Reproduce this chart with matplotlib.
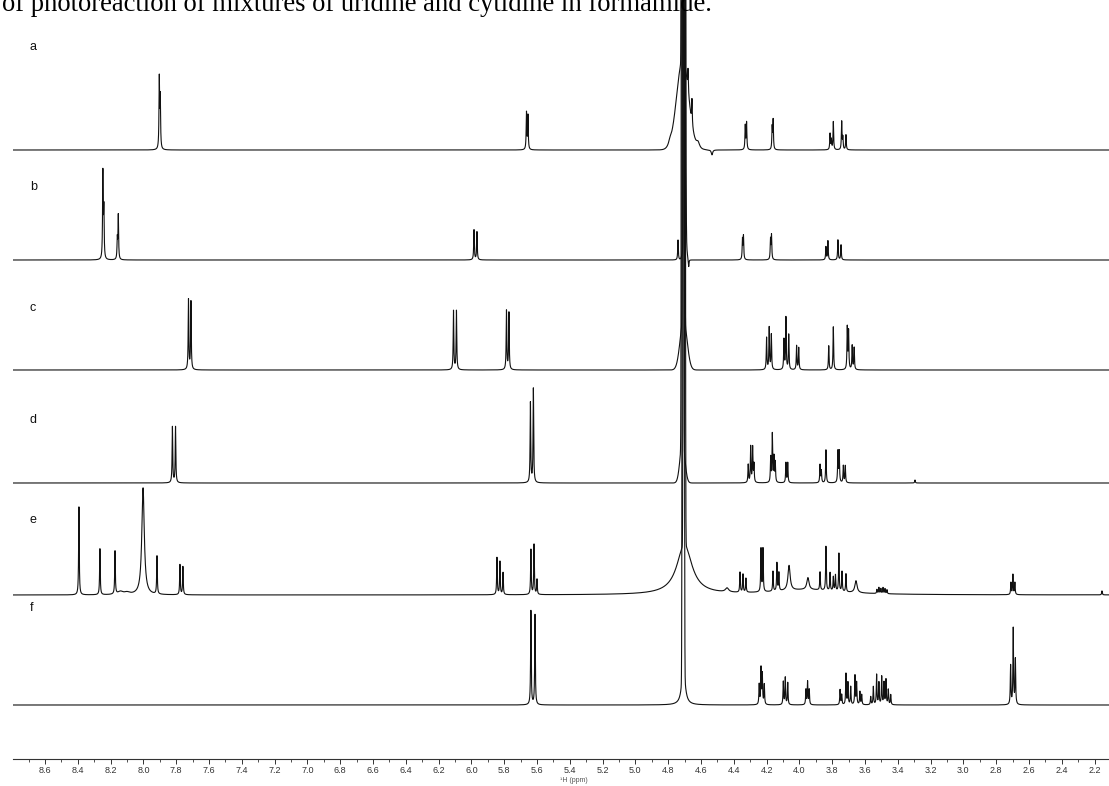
import numpy as np
import matplotlib.pyplot as plt
from matplotlib.ticker import MultipleLocator, FormatStrFormatter

plt.rcParams['font.family'] = ['Liberation Sans', 'DejaVu Sans']

caption = 'of photoreaction of mixtures of uridine and cytidine in formamide.'
labels = ['a', 'b', 'c', 'd', 'e', 'f']

# sharp lines: chemical shift (ppm) and height for each trace
a_shift = [7.903, 7.897, 5.664, 5.655, 4.679, 4.655, 4.330, 4.322, 4.166, 4.160,
           3.813, 3.805, 3.793, 3.742, 3.735, 3.716]
a_height = [70, 50, 37, 34, 22, 25, 24, 27, 22, 29, 16, 10, 28, 28, 12, 15]

b_shift = [8.247, 8.241, 8.159, 8.153, 5.984, 5.966, 4.740, 4.690, 4.675,
           4.347, 4.341, 4.176, 4.170, 3.838, 3.826, 3.765, 3.746]
b_height = [86, 48, 20, 44, 30, 28, 20, 25, -8, 20, 23, 20, 24, 13, 19, 20, 15]

c_shift = [7.725, 7.710, 6.109, 6.091, 5.786, 5.771,
           4.200, 4.184, 4.171, 4.094, 4.082, 4.065, 4.017, 4.004,
           3.821, 3.793, 3.708, 3.700, 3.678, 3.666]
c_height = [70, 68, 59, 59, 59, 57,
            32, 42, 35, 30, 52, 35, 24, 22,
            24, 43, 42, 38, 24, 22]

d_shift = [7.823, 7.804, 5.640, 5.622,
           4.312, 4.297, 4.285, 4.277, 4.175, 4.165, 4.155, 4.147, 4.082, 4.071,
           3.874, 3.866, 3.838, 3.765, 3.757, 3.732, 3.720, 3.295]
d_height = [56, 56, 80, 94,
            18, 36, 35, 18, 25, 48, 25, 20, 20, 20,
            18, 12, 33, 31, 31, 17, 17, 3]

e_shift = [8.393, 8.265, 8.173, 7.917, 7.777, 7.759,
           5.844, 5.826, 5.807, 5.637, 5.618, 5.600,
           4.362, 4.344, 4.326, 4.234, 4.222, 4.161, 4.137, 4.125,
           3.874, 3.838, 3.813, 3.793, 3.780, 3.759, 3.740, 3.716,
           3.527, 3.515, 3.503, 3.490, 3.478, 3.466,
           2.710, 2.698, 2.686, 2.155]
e_height = [88, 46, 43, 38, 30, 28,
            37, 33, 22, 45, 50, 15,
            20, 18, 14, 43, 43, 20, 28, 18,
            18, 44, 18, 14, 16, 38, 20, 18,
            4, 6, 5, 6, 5, 4,
            12, 20, 12, 4]

f_shift = [5.637, 5.612,
           4.245, 4.234, 4.226, 4.214, 4.098, 4.086, 4.071, 3.960, 3.950, 3.940,
           3.752, 3.742, 3.716, 3.704, 3.687, 3.661, 3.651, 3.631, 3.620,
           3.565, 3.549, 3.529, 3.515, 3.498, 3.484, 3.472, 3.458, 3.443,
           2.712, 2.696, 2.683]
f_height = [94, 90,
            20, 36, 30, 20, 23, 27, 22, 15, 23, 15,
            15, 10, 31, 22, 18, 29, 22, 13, 10,
            8, 18, 30, 22, 28, 22, 25, 15, 10,
            39, 76, 45]

# broader features: shift, height, half width (ppm)
a_broad_shift = [4.789, 4.618, 4.533]
a_broad_height = [4, 6, -5]
a_broad_width = [0.010, 0.012, 0.005]

b_broad_shift = []
b_broad_height = []
b_broad_width = []

c_broad_shift = []
c_broad_height = []
c_broad_width = []

d_broad_shift = []
d_broad_height = []
d_broad_width = []

e_broad_shift = [8.002, 8.14, 8.10, 4.701, 4.441, 4.063, 3.948, 3.655, 3.95]
e_broad_height = [107, 3, 2, 50, 4, 25, 12, 12, 5]
e_broad_width = [0.009, 0.02, 0.02, 0.055, 0.012, 0.008, 0.008, 0.008, 0.25]

f_broad_shift = [4.707]
f_broad_height = [40]
f_broad_width = [0.012]

# residual water line, one per trace: centre and foot of the line
water_shift = [4.712, 4.700, 4.706, 4.713, 4.702, 4.708]
water_foot_height = [90, 20, 50, 40, 0, 0]
water_foot_sigma = [0.036, 0.010, 0.021, 0.015, 0.01, 0.01]


def lorentz(x, shifts, heights, w):
    y = np.zeros_like(x)
    for s, h in zip(shifts, heights):
        y += h * w**2 / ((x - s)**2 + w**2)
    return y


def broad(x, shifts, heights, widths):
    y = np.zeros_like(x)
    for s, h, w in zip(shifts, heights, widths):
        y += h * w**2 / ((x - s)**2 + w**2)
    return y


def gauss(x, s, h, sig):
    return h * np.exp(-(x - s)**2 / (2 * sig**2))


ppm = np.linspace(8.8, 2.1, 80000)
sharp = [(a_shift, a_height), (b_shift, b_height), (c_shift, c_height),
         (d_shift, d_height), (e_shift, e_height), (f_shift, f_height)]
wide = [(a_broad_shift, a_broad_height, a_broad_width),
        (b_broad_shift, b_broad_height, b_broad_width),
        (c_broad_shift, c_broad_height, c_broad_width),
        (d_broad_shift, d_broad_height, d_broad_width),
        (e_broad_shift, e_broad_height, e_broad_width),
        (f_broad_shift, f_broad_height, f_broad_width)]

fig = plt.figure(figsize=(11.09, 7.86), dpi=100)
ax = fig.add_axes([13 / 1109, 27 / 786, 1096 / 1109, 759 / 786])

offsets = [609, 499, 389, 276, 164, 54]
label_y = [47, 187, 308, 420, 520, 608]

for i in range(6):
    y = lorentz(ppm, sharp[i][0], sharp[i][1], 0.0022)
    y += broad(ppm, *wide[i])
    y += gauss(ppm, water_shift[i], 1e4, 0.003)
    y += gauss(ppm, water_shift[i], water_foot_height[i], water_foot_sigma[i])
    ax.plot(ppm, y + offsets[i], color='#111111', lw=0.8)
    fig.text(30 / 1109, 1 - label_y[i] / 786, labels[i], fontsize=9,
             ha='left', va='center', color='#111111')

ax.set_xlim(8.795, 2.112)
ax.set_ylim(0, 759)
for side in ['top', 'left', 'right']:
    ax.spines[side].set_visible(False)
ax.spines['bottom'].set_color('#333333')
ax.spines['bottom'].set_linewidth(0.8)
ax.set_yticks([])
ax.xaxis.set_major_locator(MultipleLocator(0.2))
ax.xaxis.set_minor_locator(MultipleLocator(0.1))
ax.xaxis.set_major_formatter(FormatStrFormatter('%.1f'))
ax.tick_params(axis='x', which='major', length=3.5, width=0.7, pad=1.5,
               labelsize=6.5, colors='#333333')
ax.tick_params(axis='x', which='minor', length=2, width=0.6, colors='#333333')

fig.text(560 / 1109, 1 - 781 / 786, '¹H (ppm)', fontsize=5, color='#555555',
         va='center')
fig.text(0.0015, 1 - 11 / 786, caption, family=['Liberation Serif'],
         fontsize=19.2, va='baseline', ha='left')

fig.savefig('out.png', dpi=100)
